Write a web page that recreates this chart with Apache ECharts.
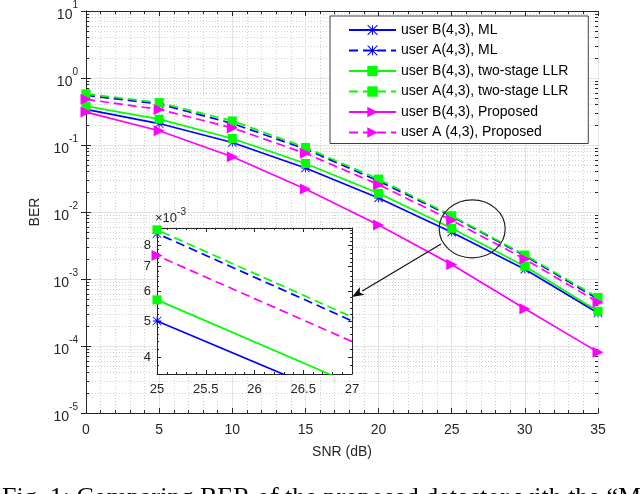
<!DOCTYPE html>
<html>
<head>
<meta charset="utf-8">
<script src="https://cdn.jsdelivr.net/npm/echarts@6/dist/echarts.min.js"></script>
<style>
html, body { margin: 0; padding: 0; background: #fff; }
#main { width: 640px; height: 494px; }
</style>
</head>
<body>
<div id="main"></div>
<script>
"use strict";
// SNR (dB) values on the x axis
var snr = [0, 5, 10, 15, 20, 25, 30, 35];
// BER
var berBML  = [0.34, 0.209, 0.109, 0.0453, 0.0162, 0.0050, 0.00140, 0.00031];
var berAML  = [0.55, 0.41, 0.21, 0.087, 0.029, 0.0086, 0.00222, 0.00050];
var berBLLR = [0.38, 0.243, 0.125, 0.053, 0.019, 0.0057, 0.00155, 0.00033];
var berALLR = [0.58, 0.43, 0.229, 0.092, 0.031, 0.0088, 0.00228, 0.00053];
var berBPro = [0.31, 0.163, 0.0667, 0.022, 0.0064, 0.00165, 0.00036, 0.000081];
var berAPro = [0.48, 0.34, 0.18, 0.075, 0.0256, 0.0075, 0.00198, 0.00045];
var names = ['user B(4,3), ML', 'user A(4,3), ML', 'user B(4,3), two-stage LLR',
             'user A(4,3), two-stage LLR', 'user B(4,3), Proposed', 'user A (4,3), Proposed'];
// tick labels
var yTicks = [1e-5, 1e-4, 1e-3, 1e-2, 1e-1, 1, 10];
var insetTicks = [0.004, 0.005, 0.006, 0.007, 0.008];

var FONT = 'Liberation Sans';
var INK = '#262626';

// minor log ticks 2..9 x 10^k
var yMinor = [];
for (var k = -5; k <= 0; k++) {
    for (var m = 2; m <= 9; m++) yMinor.push(+(m * Math.pow(10, k)).toPrecision(3));
}
var insetMinor = [];
for (var t = 36; t <= 89; t += 2) insetMinor.push(t / 10000);

var starPath = 'path://M9,0L11,0L11,20L9,20Z M0,9L20,9L20,11L0,11Z M0.7,-0.7L20.7,19.3L19.3,20.7L-0.7,0.7Z M19.3,-0.7L20.7,0.7L0.7,20.7L-0.7,19.3Z';

function pairs(ys) {
    return snr.map(function (x, i) { return [x, ys[i]]; });
}

var styles = [
    {data: berBML,  color: '#0000ff', dash: false, symbol: starPath, size: 9, rot: 0},
    {data: berAML,  color: '#0000ff', dash: true,  symbol: starPath, size: 9, rot: 0},
    {data: berBLLR, color: '#00ff00', dash: false, symbol: 'rect', size: 9, rot: 0},
    {data: berALLR, color: '#00ff00', dash: true,  symbol: 'rect', size: 9, rot: 0},
    {data: berBPro, color: '#ff00ff', dash: false, symbol: 'triangle', size: 11, rot: -90},
    {data: berAPro, color: '#ff00ff', dash: true,  symbol: 'triangle', size: 11, rot: -90}
];

var series = [];
styles.forEach(function (s, i) {
    series.push({
        name: names[i], type: 'line', xAxisIndex: 0, yAxisIndex: 0,
        data: pairs(s.data), symbol: s.symbol, symbolSize: s.size, symbolRotate: s.rot,
        showAllSymbol: true, animation: false,
        lineStyle: {color: s.color, width: 1.7, type: s.dash ? [9, 5] : 'solid'},
        itemStyle: {color: s.color}
    });
});
// inset: same data, zoomed axes
styles.forEach(function (s, i) {
    series.push({
        name: names[i], type: 'line', xAxisIndex: 2, yAxisIndex: 4, z: 7,
        data: pairs(s.data), symbol: s.symbol, symbolSize: s.size, symbolRotate: s.rot,
        showAllSymbol: true, clip: true, animation: false, silent: true,
        lineStyle: {color: s.color, width: 1.7, type: s.dash ? [9, 5] : 'solid'},
        itemStyle: {color: s.color}
    });
});

function tickAxis(extra) {
    var base = {
        axisLine: {show: true, lineStyle: {color: INK, width: 1}},
        axisTick: {show: true, inside: true, length: 5, lineStyle: {color: INK}},
        axisLabel: {show: false},
        splitLine: {show: false}
    };
    return Object.assign(base, extra);
}

var myChart = echarts.init(document.getElementById('main'));
var option = {
    backgroundColor: '#fff',
    animation: false,
    grid: [
        {left: 86, right: 42, top: 9, bottom: 81},
        {left: 157, right: 288, top: 228, bottom: 120, show: true, backgroundColor: '#fff',
         borderWidth: 0, z: 5}
    ],
    legend: {
        orient: 'vertical', left: 330, top: 16, z: 8,
        itemWidth: 47, itemHeight: 13, itemGap: 6.5,
        padding: [7, 20, 4, 18],
        backgroundColor: '#fff', borderColor: '#404040', borderWidth: 1,
        textStyle: {fontSize: 14, fontFamily: FONT, color: '#000'},
        data: names
    },
    xAxis: [
        tickAxis({
            gridIndex: 0, type: 'value', min: 0, max: 35, interval: 5, position: 'bottom',
            minorTick: {show: true, splitNumber: 5, length: 3, lineStyle: {color: INK}},
            axisLabel: {show: true, color: INK, fontSize: 14, fontFamily: FONT, margin: 10},
            splitLine: {show: true, lineStyle: {color: '#e3e3e3', width: 1}},
            minorSplitLine: {show: true, lineStyle: {color: '#cfcfcf', width: 1, type: [1, 2]}},
            name: 'SNR (dB)', nameLocation: 'middle', nameGap: 32,
            nameTextStyle: {fontSize: 14, fontFamily: FONT, color: INK}
        }),
        tickAxis({
            gridIndex: 0, type: 'value', min: 0, max: 35, interval: 5, position: 'top',
            minorTick: {show: true, splitNumber: 5, length: 3, lineStyle: {color: INK}}
        }),
        tickAxis({
            gridIndex: 1, type: 'value', min: 25, max: 27, interval: 0.5, position: 'bottom', z: 6,
            axisTick: {show: true, inside: true, length: 4, lineStyle: {color: INK}},
            minorTick: {show: true, splitNumber: 5, length: 2, lineStyle: {color: INK}},
            axisLabel: {show: true, color: INK, fontSize: 13, fontFamily: FONT, margin: 9}
        }),
        tickAxis({
            gridIndex: 1, type: 'value', min: 25, max: 27, interval: 0.5, position: 'top', z: 6,
            axisTick: {show: true, inside: true, length: 4, lineStyle: {color: INK}},
            minorTick: {show: true, splitNumber: 5, length: 2, lineStyle: {color: INK}}
        })
    ],
    yAxis: [
        tickAxis({
            gridIndex: 0, type: 'log', logBase: 10, min: 1e-5, max: 10, position: 'left',
            axisTick: {show: true, inside: true, length: 5, customValues: yTicks, lineStyle: {color: INK}},
            axisLabel: {
                show: true, customValues: yTicks, margin: 8,
                formatter: function (v) {
                    return '{b|10}{s|' + Math.round(Math.log10(v)) + '}';
                },
                rich: {
                    b: {fontSize: 14, fontFamily: FONT, color: INK, lineHeight: 22, verticalAlign: 'bottom'},
                    s: {fontSize: 10, fontFamily: FONT, color: INK, lineHeight: 12, verticalAlign: 'top'}
                }
            },
            splitLine: {show: true, lineStyle: {color: '#e3e3e3', width: 1}},
            name: 'BER', nameLocation: 'middle', nameGap: 44,
            nameTextStyle: {fontSize: 14, fontFamily: FONT, color: INK}
        }),
        tickAxis({
            gridIndex: 0, type: 'log', logBase: 10, min: 1e-5, max: 10, position: 'right',
            axisTick: {show: true, inside: true, length: 5, customValues: yTicks, lineStyle: {color: INK}}
        }),
        tickAxis({
            gridIndex: 0, type: 'log', logBase: 10, min: 1e-5, max: 10, position: 'left',
            axisLine: {show: false},
            axisTick: {show: true, inside: true, length: 3, customValues: yMinor, lineStyle: {color: INK}},
            splitLine: {show: true, lineStyle: {color: '#cfcfcf', width: 1, type: [1, 2]}}
        }),
        tickAxis({
            gridIndex: 0, type: 'log', logBase: 10, min: 1e-5, max: 10, position: 'right',
            axisLine: {show: false},
            axisTick: {show: true, inside: true, length: 3, customValues: yMinor, lineStyle: {color: INK}}
        }),
        tickAxis({
            gridIndex: 1, type: 'log', logBase: 10, min: 0.0036, max: 0.0089, position: 'left', z: 6,
            axisTick: {show: true, inside: true, length: 4, customValues: insetTicks, lineStyle: {color: INK}},
            axisLabel: {
                show: true, customValues: insetTicks, margin: 6, color: INK, fontSize: 13, fontFamily: FONT,
                formatter: function (v) { return String(Math.round(v * 1000)); }
            },
            name: '{b|\u00d710}{s|-3}', nameLocation: 'end', nameGap: 3,
            nameTextStyle: {
                align: 'left', padding: [0, 0, 0, -2],
                rich: {
                    b: {fontSize: 13, fontFamily: FONT, color: INK, lineHeight: 18, verticalAlign: 'bottom'},
                    s: {fontSize: 10, fontFamily: FONT, color: INK, lineHeight: 10, verticalAlign: 'top'}
                }
            }
        }),
        tickAxis({
            gridIndex: 1, type: 'log', logBase: 10, min: 0.0036, max: 0.0089, position: 'left', z: 6,
            axisLine: {show: false},
            axisTick: {show: true, inside: true, length: 2, customValues: insetMinor, lineStyle: {color: INK}}
        }),
        tickAxis({
            gridIndex: 1, type: 'log', logBase: 10, min: 0.0036, max: 0.0089, position: 'right', z: 6,
            axisTick: {show: true, inside: true, length: 4, customValues: insetTicks, lineStyle: {color: INK}}
        }),
        tickAxis({
            gridIndex: 1, type: 'log', logBase: 10, min: 0.0036, max: 0.0089, position: 'right', z: 6,
            axisLine: {show: false},
            axisTick: {show: true, inside: true, length: 2, customValues: insetMinor, lineStyle: {color: INK}}
        })
    ],
    series: series
};
myChart.setOption(option);

// annotation: ellipse around the 25 dB points and an arrow to the inset
var c = myChart.convertToPixel({xAxisIndex: 0, yAxisIndex: 0}, [26.4, 0.0056]);
var a0 = myChart.convertToPixel({xAxisIndex: 0, yAxisIndex: 0}, [24.27, 0.00333]);
var a1 = myChart.convertToPixel({xAxisIndex: 2, yAxisIndex: 4}, [27, 0.0058]);
var dx = a1[0] - a0[0], dy = a1[1] - a0[1];
var len = Math.sqrt(dx * dx + dy * dy);
var ux = dx / len, uy = dy / len;
var hl = 12, hw = 4.5;
var bx = a1[0] - ux * hl, by = a1[1] - uy * hl;

myChart.setOption({
    graphic: [
        {type: 'ellipse', z: 20, silent: true,
         shape: {cx: c[0], cy: c[1], rx: 33, ry: 29},
         style: {fill: 'none', stroke: '#222', lineWidth: 1.2}},
        {type: 'line', z: 20, silent: true,
         shape: {x1: a0[0], y1: a0[1], x2: bx, y2: by},
         style: {stroke: '#111', lineWidth: 1.2}},
        {type: 'polygon', z: 20, silent: true,
         shape: {points: [[a1[0], a1[1]], [bx - uy * hw, by + ux * hw], [bx + ux * 3, by + uy * 3], [bx + uy * hw, by - ux * hw]]},
         style: {fill: '#111'}},
        {type: 'text', z: 20, silent: true, left: 2, top: 485,
         style: {text: 'Fig. 1: Comparing BER of the proposed detector with the \u201cM',
                 font: '26px "Liberation Serif"', fill: '#000'}}
    ]
});
</script>
</body>
</html>
